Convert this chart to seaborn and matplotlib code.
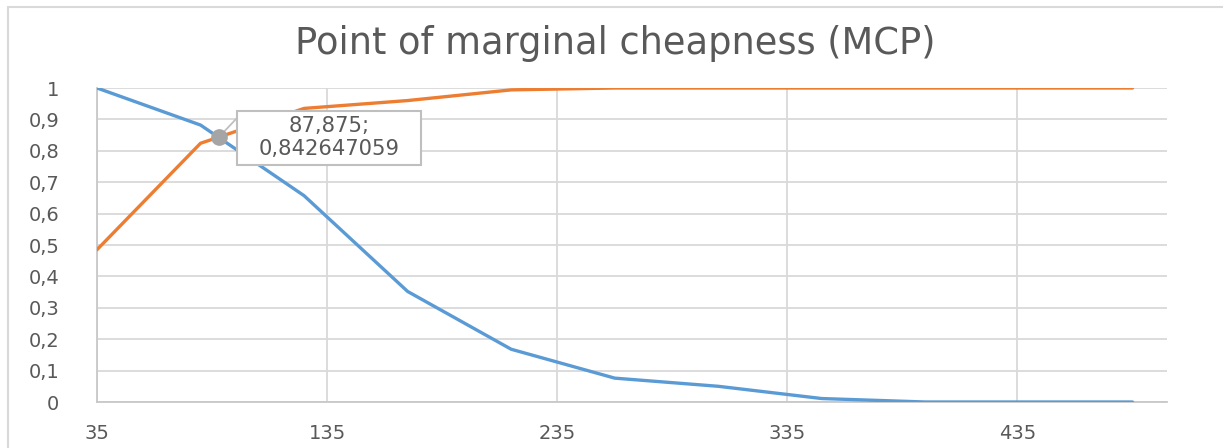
import matplotlib
matplotlib.use("Agg")
import matplotlib.pyplot as plt
import seaborn as sns
import pandas as pd
from matplotlib.patches import Rectangle

# ---- data ----
prices = [35, 80, 125, 170, 215, 260, 305, 350, 395, 440, 485]
too_cheap = [1.0, 0.882, 0.657, 0.352, 0.168, 0.076, 0.050, 0.011, 0.0, 0.0, 0.0]
not_cheap = [0.485, 0.824, 0.935, 0.960, 0.994, 1.0, 1.0, 1.0, 1.0, 1.0, 1.0]
series_names = ["Too cheap", "Not cheap"]
x_ticks = [35, 135, 235, 335, 435]
y_ticks = [0, 0.1, 0.2, 0.3, 0.4, 0.5, 0.6, 0.7, 0.8, 0.9, 1.0]
mcp_x = 87.875
mcp_y = 0.842647059
title = "Point of marginal cheapness (MCP)"

df = pd.DataFrame({
    "price": prices * 2,
    "share": too_cheap + not_cheap,
    "series": [series_names[0]] * len(prices) + [series_names[1]] * len(prices),
})

sns.set_theme(style="white")
plt.rcParams["font.family"] = ["DejaVu Sans"]

W, H = 1223, 448
fig = plt.figure(figsize=(W / 100, H / 100), dpi=100)
ax = fig.add_axes([97 / W, (H - 402) / H, 1070 / W, 314 / H])

grid_c = "#d9d9d9"
text_c = "#595959"
fs = 14

sns.lineplot(data=df, x="price", y="share", hue="series",
             palette=["#5B9BD5", "#ED7D31"], linewidth=2.4,
             legend=False, ax=ax, zorder=3)

ax.set_xlim(35, 500)
ax.set_ylim(0, 1)
ax.set_xticks(x_ticks)
ax.set_xticklabels([str(t) for t in x_ticks])
ax.set_yticks(y_ticks)
ax.set_yticklabels([("%g" % t).replace(".", ",") for t in y_ticks])
ax.tick_params(axis="both", length=0, labelsize=fs, colors=text_c)
ax.tick_params(axis="y", pad=27)
ax.tick_params(axis="x", pad=16)
ax.set_xlabel("")
ax.set_ylabel("")
ax.grid(True, color=grid_c, linewidth=1.3, zorder=0)
ax.set_axisbelow(True)
for s in ["top", "right"]:
    ax.spines[s].set_visible(False)
for s in ["left", "bottom"]:
    ax.spines[s].set_color("#c8c8c8")
    ax.spines[s].set_linewidth(1.3)

# MCP marker and data label
ax.plot([mcp_x], [mcp_y], marker="o", markersize=11, color="#a5a5a5", zorder=5)
ax.plot([mcp_x, 95.9], [mcp_y, 0.905], color="#bfbfbf", linewidth=1.3, zorder=4)
box = Rectangle((95.9, 0.755), 80.0, 0.172, facecolor="white", edgecolor="#bfbfbf",
                linewidth=1.5, zorder=6)
ax.add_patch(box)
ax.text(135.9, 0.878, ("%g" % mcp_x).replace(".", ",") + ";", ha="center", va="center",
        fontsize=fs + 1.2, color=text_c, zorder=7)
ax.text(135.9, 0.806, ("%.9f" % mcp_y).replace(".", ","), ha="center", va="center",
        fontsize=fs + 1.2, color=text_c, zorder=7)

fig.text(615 / W, 1 - 44 / H, title, ha="center", va="center", fontsize=26.5, color=text_c)

# chart area border (left and top edges visible)
fig.patches.append(Rectangle((8 / W, -0.05), 1.1, 1.05 - 7 / H,
                             transform=fig.transFigure, fill=False,
                             edgecolor="#d9d9d9", linewidth=1.5))

fig.savefig("out.png", dpi=100)
